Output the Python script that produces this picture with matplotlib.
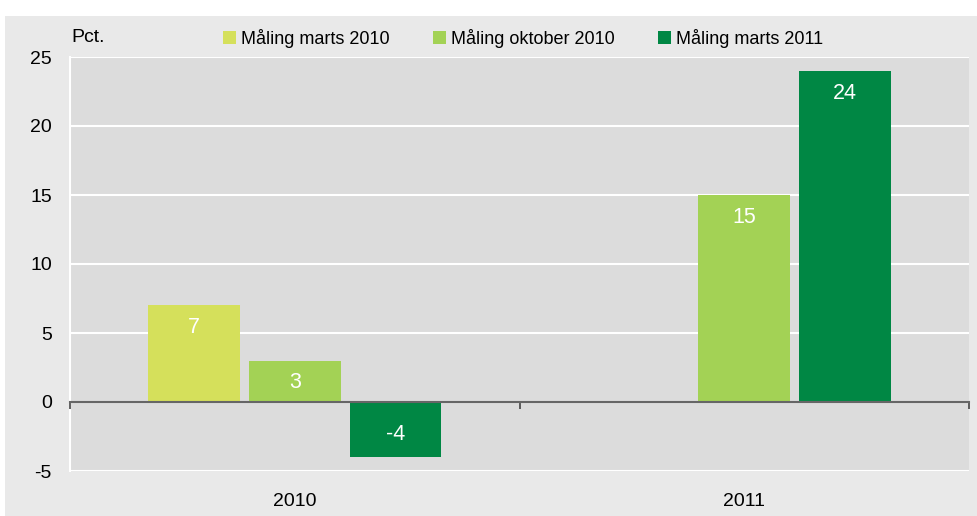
import matplotlib.pyplot as plt
import matplotlib.patches as mpatches
import numpy as np

plt.rcParams["font.family"] = ["Liberation Sans", "DejaVu Sans"]
plt.rcParams["axes.unicode_minus"] = False

years = ["2010", "2011"]
series = ["Måling marts 2010", "Måling oktober 2010", "Måling marts 2011"]
values = [
    [7, None],
    [3, 15],
    [-4, 24],
]
colors = ["#d5e05b", "#a3d255", "#008744"]

fig = plt.figure(figsize=(9.77, 5.16), dpi=100)
fig.patch.set_facecolor("white")
# grey panel behind the chart
fig.patches.append(mpatches.Rectangle((5 / 977, 0), 1, 1 - 16 / 516, transform=fig.transFigure,
                                      facecolor="#e9e9e9", edgecolor="none", zorder=-1))

ax = fig.add_axes([70 / 977, 45 / 516, 899 / 977, 414 / 516])
ax.set_facecolor("#dcdcdc")

x = np.arange(len(years))
w = 0.204
step = 0.224
for i, (name, vals, c) in enumerate(zip(series, values, colors)):
    off = (i - 1) * step
    xs = [xx + off for xx, v in zip(x, vals) if v is not None]
    vs = [v for v in vals if v is not None]
    bars = ax.bar(xs, vs, width=w, color=c, label=name, zorder=2)
    for b, v in zip(bars, vs):
        ax.annotate(str(v), (b.get_x() + b.get_width() / 2, v),
                    xytext=(0, -16 if v > 0 else 16), textcoords="offset points",
                    ha="center", va="center", color="white", fontsize=15.5, zorder=4)

ax.set_ylim(-5, 25)
ax.set_xlim(-0.5, 1.5)
ax.set_yticks(range(-5, 26, 5))
ax.grid(axis="y", color="white", lw=1.5, zorder=0)
ax.set_axisbelow(True)
ax.tick_params(axis="y", length=0, pad=13, labelsize=14)

for s in ["top", "right"]:
    ax.spines[s].set_visible(False)
ax.spines["left"].set_color("white")
ax.spines["left"].set_linewidth(1.5)
ax.spines["left"].set_zorder(0.5)
ax.spines["bottom"].set_position(("data", 0))
ax.spines["bottom"].set_color("#666666")
ax.spines["bottom"].set_linewidth(1.5)
ax.spines["bottom"].set_zorder(3)
ax.set_xticks([-0.5, 0.5, 1.5])
ax.set_xticklabels([])
ax.tick_params(axis="x", length=5, width=1.2, color="#444444", direction="out")

sec = ax.secondary_xaxis(0)
sec.set_xticks(x)
sec.set_xticklabels(years, fontsize=14)
sec.tick_params(length=0, pad=16)
sec.spines["bottom"].set_visible(False)

fig.text(71 / 977, 1 - 38 / 516, "Pct.", ha="left", va="center", fontsize=14)

leg = ax.legend(loc="center left", bbox_to_anchor=(207 / 977, 1 - 38 / 516),
                bbox_transform=fig.transFigure, ncol=3, frameon=False,
                handlelength=0.7, handleheight=0.7, handletextpad=0.3,
                columnspacing=2.4, prop={"size": 13})

fig.savefig("out.png", dpi=100)
